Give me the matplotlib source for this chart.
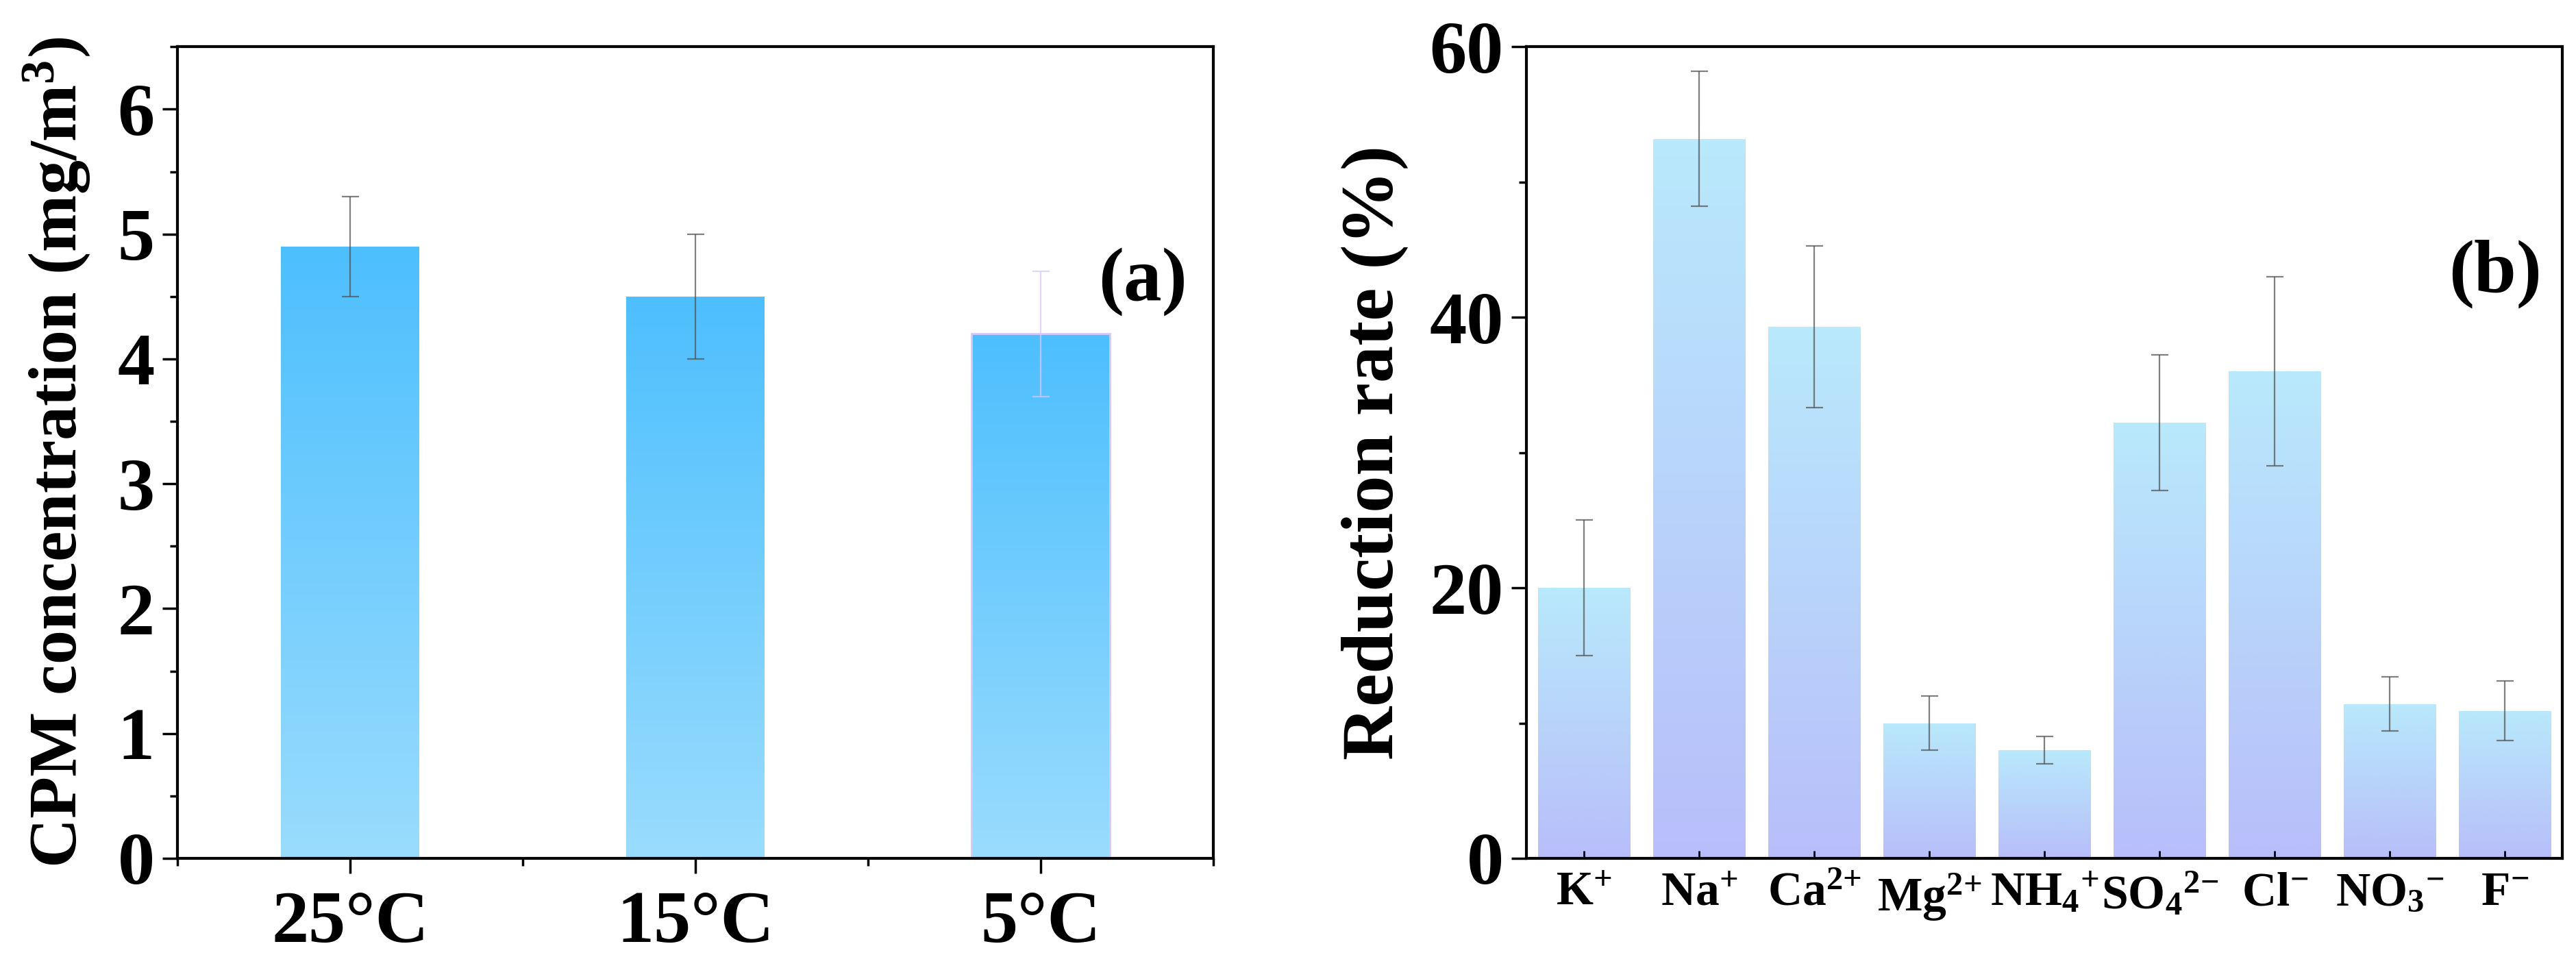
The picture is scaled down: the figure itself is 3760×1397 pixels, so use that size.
import matplotlib
matplotlib.use("Agg")
import matplotlib.pyplot as plt
import numpy as np
from matplotlib.colors import LinearSegmentedColormap
from matplotlib.ticker import MultipleLocator

plt.rcParams['font.family'] = ['Liberation Serif', 'DejaVu Serif']
plt.rcParams['font.weight'] = 'bold'
plt.rcParams['mathtext.fontset'] = 'custom'
plt.rcParams['mathtext.rm'] = 'Liberation Serif:bold'
plt.rcParams['mathtext.it'] = 'Liberation Serif:bold'
plt.rcParams['mathtext.bf'] = 'Liberation Serif:bold'

# panel (a) data
temps = ['25\u00b0C', '15\u00b0C', '5\u00b0C']
cpm = [4.9, 4.5, 4.2]
cpm_err = [0.4, 0.5, 0.5]

# panel (b) data
ions = [r'K$^{{+}}$', r'Na$^{{+}}$', r'Ca$^{2{+}}$', r'Mg$^{2{+}}$', r'NH$_{4}$$^{{+}}$',
        r'SO$_{4}$$^{2{-}}$', r'Cl$^{{-}}$', r'NO$_{3}$$^{{-}}$', r'F$^{{-}}$']
reduction = [20.0, 53.2, 39.3, 10.0, 8.0, 32.2, 36.0, 11.4, 10.9]
reduction_err = [5.0, 5.0, 6.0, 2.0, 1.0, 5.0, 7.0, 2.0, 2.2]

cmap_a = LinearSegmentedColormap.from_list('a', ['#9ADCFD', '#4DBFFE'])
cmap_b = LinearSegmentedColormap.from_list('b', ['#B8BEFA', '#B8E9FC'])


def gradient_bars(ax, bars, cmap):
    grad = np.linspace(0, 1, 256).reshape(-1, 1)
    for b in bars:
        x0, y0 = b.get_x(), b.get_y()
        w, h = b.get_width(), b.get_height()
        im = ax.imshow(grad, cmap=cmap, origin='lower', aspect='auto',
                       extent=[x0, x0 + w, y0, y0 + h], zorder=1)
        im.set_clip_path(b)


def style_axes(ax):
    for s in ax.spines.values():
        s.set_linewidth(3)
    ax.tick_params(axis='y', which='major', direction='out', length=16, width=2.5,
                   labelsize=78, pad=8)
    ax.tick_params(axis='y', which='minor', direction='out', length=8, width=2.5)


fig = plt.figure(figsize=(37.6, 13.97), dpi=100)
ax1 = fig.add_axes([0.0689, 0.1031, 0.4021, 0.848])
ax2 = fig.add_axes([0.5926, 0.1031, 0.4021, 0.848])

# (a)
x1 = np.arange(len(temps))
bars1 = ax1.bar(x1, cpm, width=0.4, color='none', zorder=2)
gradient_bars(ax1, bars1, cmap_a)
bars1[2].set_edgecolor('#D9C6FA')
bars1[2].set_linewidth(2)
err_cols = ['#555555', '#555555', '#D9C6FA']
for i in range(len(temps)):
    ax1.errorbar(x1[i], cpm[i], yerr=cpm_err[i], fmt='none', ecolor=err_cols[i],
                 elinewidth=1.6, capsize=9, capthick=1.6, alpha=0.75, zorder=3)
ax1.set_xlim(-0.5, 2.5)
ax1.set_ylim(0, 6.5)
ax1.set_xticks(x1)
ax1.set_xticklabels(temps)
ax1.xaxis.set_minor_locator(MultipleLocator(0.5))
ax1.yaxis.set_major_locator(MultipleLocator(1))
ax1.yaxis.set_minor_locator(MultipleLocator(0.5))
style_axes(ax1)
ax1.tick_params(axis='x', which='major', direction='out', length=16, width=2.5,
                labelsize=78, pad=18)
ax1.tick_params(axis='x', which='minor', direction='out', length=8, width=2.5)
ax1.set_ylabel(r'CPM concentration (mg/m$^{3}$)', fontsize=72, fontweight='bold', labelpad=26)
ax1.text(0.975, 0.71, '(a)', transform=ax1.transAxes, fontsize=80, fontweight='bold',
         ha='right', va='center')

# (b)
x2 = np.arange(len(ions))
bars2 = ax2.bar(x2, reduction, width=0.8, color='none', zorder=2)
gradient_bars(ax2, bars2, cmap_b)
ax2.errorbar(x2, reduction, yerr=reduction_err, fmt='none', ecolor='#555555',
             elinewidth=1.6, capsize=9, capthick=1.6, alpha=0.75, zorder=3)
ax2.set_xlim(-0.5, 8.5)
ax2.set_ylim(0, 60)
ax2.set_xticks(x2)
ax2.set_xticklabels(ions)
ax2.yaxis.set_major_locator(MultipleLocator(20))
ax2.yaxis.set_minor_locator(MultipleLocator(10))
style_axes(ax2)
ax2.tick_params(axis='x', which='major', direction='in', length=8, width=2,
                labelsize=50, pad=14)
ax2.set_ylabel('Reduction rate (%)', fontsize=78, fontweight='bold', labelpad=22)
ax2.text(0.98, 0.72, '(b)', transform=ax2.transAxes, fontsize=80, fontweight='bold',
         ha='right', va='center')

fig.savefig('out.png', dpi=100)
